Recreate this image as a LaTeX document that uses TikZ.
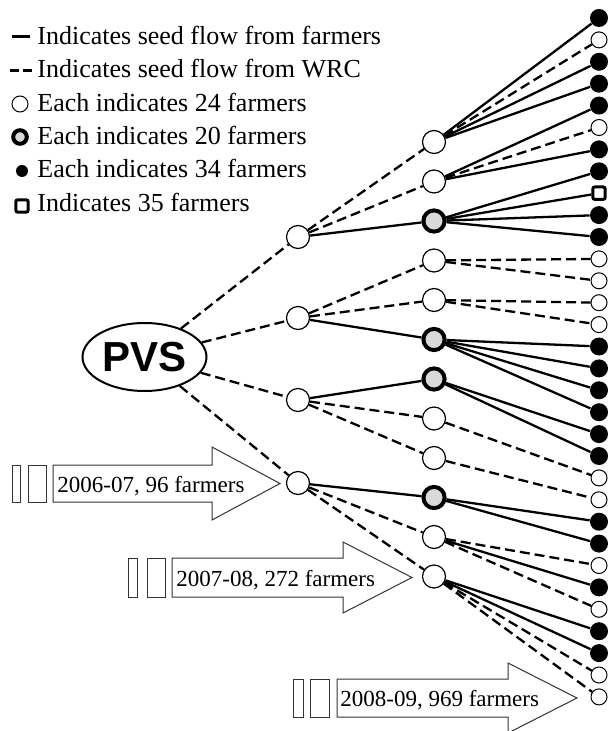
\documentclass[tikz,border=0pt]{standalone}
\usepackage{fontspec}
\setmainfont{Liberation Serif}
\newfontfamily\pvsfont{Liberation Sans}
\usetikzlibrary{shapes.geometric}

\begin{document}
\begin{tikzpicture}[x=0.5pt,y=-0.5pt,
    pvs/.style={ellipse,draw,line width=1pt,minimum width=62pt,minimum height=34pt,inner sep=0pt,
        font=\pvsfont\bfseries\fontsize{21}{21}\selectfont},
    opn/.style={circle,draw,fill=white,line width=0.6pt,minimum size=11.5pt,inner sep=0pt},
    hatch/.style={circle,draw,fill=gray!30,line width=2pt,minimum size=10.6pt,inner sep=0pt},
    full/.style={circle,fill=black,minimum size=9pt,inner sep=0pt},
    tip/.style={circle,draw,fill=white,line width=0.5pt,minimum size=8pt,inner sep=0pt},
    sqr/.style={rectangle,draw,fill=white,line width=1.5pt,rounded corners=1pt,minimum size=6.2pt,inner sep=0pt},
    frm/.style={line width=1.15pt},
    wrc/.style={line width=1.15pt,dash pattern=on 5pt off 2.5pt},
    key/.style={anchor=base west,inner sep=0pt,font=\fontsize{13}{15}\selectfont},
    year/.style={anchor=base west,inner sep=0pt,font=\fontsize{11.5}{13}\selectfont},
    box/.style={line width=0.5pt,draw=black!80}]
    \useasboundingbox (0,0) rectangle (608,731);

    % legend
    \draw[line width=1.5pt] (12,37) -- (30,37);
    \draw[line width=1.5pt,dash pattern=on 4.5pt off 2pt] (10,71) -- (32,71);
    \node[tip] (k3) at (20,104) {};
    \node[hatch,minimum size=6.8pt] (k4) at (20,137) {};
    \node[full,minimum size=6pt] (k5) at (22,171) {};
    \node[sqr] (k6) at (22,206) {};
    \node[key] (t1) at (37,45) {Indicates seed flow from farmers};
    \node[key] (t2) at (37,78) {Indicates seed flow from WRC};
    \node[key] (t3) at (37,112) {Each indicates 24 farmers};
    \node[key] (t4) at (37,145) {Each indicates 20 farmers};
    \node[key] (t5) at (37,178) {Each indicates 34 farmers};
    \node[key] (t6) at (37,212) {Indicates 35 farmers};

    % years
    \draw[box] (12,465) rectangle (20,502);
    \draw[box] (28,465) rectangle (46,502);
    \draw[box] (53,465) -- (212,465) -- (212,447) -- (280,483.5) -- (212,520) -- (212,502) -- (53,502) -- cycle;
    \node[year] (y1) at (57,492) {2006-07, 96 farmers};
    \draw[box] (128,558) rectangle (137,597);
    \draw[box] (147,558) rectangle (165,597);
    \draw[box] (172,558) -- (343,558) -- (343,542) -- (412,577.5) -- (343,613) -- (343,597) -- (172,597) -- cycle;
    \node[year] (y2) at (176,586) {2007-08, 272 farmers};
    \draw[box] (293,679) rectangle (303,717);
    \draw[box] (310,679) rectangle (329,717);
    \draw[box] (337,679) -- (508,679) -- (508,663) -- (577,698) -- (508,733) -- (508,717) -- (337,717) -- cycle;
    \node[year] (y3) at (340,706) {2008-09, 969 farmers};

    % tree
    \node[pvs] (pvs) at (144.5,357) {PVS};
    \node[opn] (a1) at (298,237) {};
    \node[opn] (a2) at (298,318) {};
    \node[opn] (a3) at (298,400) {};
    \node[opn] (a4) at (298,483) {};
    \foreach \i/\s in {1/opn,2/opn,3/hatch,4/opn,5/opn,6/hatch,7/hatch,8/opn,9/opn,10/hatch,11/opn,12/opn}
        \node[\s] (b\i) at (434,{142+(\i-1)*39.5}) {};
    \foreach \i/\s in {1/full,2/tip,3/full,4/full,5/full,6/tip,7/full,8/full,9/sqr,10/full,11/full,
        12/tip,13/tip,14/tip,15/tip,16/full,17/full,18/full,19/full,20/full,21/full,22/tip,23/tip,
        24/full,25/full,26/tip,27/full,28/tip,29/full,30/full,31/tip,32/tip}
        \node[\s] (c\i) at (599,{18+(\i-1)*21.9}) {};

    \draw[wrc] (pvs) -- (a1);
    \draw[wrc] (pvs) -- (a2);
    \draw[wrc] (pvs) -- (a3);
    \draw[wrc] (pvs) -- (a4);

    \draw[wrc] (a1) -- (b1);
    \draw[wrc] (a1) -- (b2);
    \draw[frm] (a1) -- (b3);
    \draw[wrc] (a2) -- (b4);
    \draw[wrc] (a2) -- (b5);
    \draw[frm] (a2) -- (b6);
    \draw[frm] (a3) -- (b7);
    \draw[wrc] (a3) -- (b8);
    \draw[wrc] (a3) -- (b9);
    \draw[frm] (a4) -- (b10);
    \draw[wrc] (a4) -- (b11);
    \draw[wrc] (a4) -- (b12);

    \draw[frm] (b1) -- (c1);
    \draw[wrc] (b1) -- (c2);
    \draw[frm] (b1) -- (c3);
    \draw[frm] (b1) -- (c4);
    \draw[frm] (b2) -- (c5);
    \draw[wrc] (b2) -- (c6);
    \draw[frm] (b2) -- (c7);
    \draw[frm] (b3) -- (c8);
    \draw[frm] (b3) -- (c9);
    \draw[frm] (b3) -- (c10);
    \draw[frm] (b3) -- (c11);
    \draw[wrc] (b4) -- (c12);
    \draw[wrc] (b4) -- (c13);
    \draw[wrc] (b5) -- (c14);
    \draw[wrc] (b5) -- (c15);
    \draw[frm] (b6) -- (c16);
    \draw[frm] (b6) -- (c17);
    \draw[frm] (b6) -- (c18);
    \draw[frm] (b6) -- (c19);
    \draw[frm] (b7) -- (c20);
    \draw[frm] (b7) -- (c21);
    \draw[wrc] (b8) -- (c22);
    \draw[wrc] (b9) -- (c23);
    \draw[frm] (b10) -- (c24);
    \draw[frm] (b10) -- (c25);
    \draw[wrc] (b11) -- (c26);
    \draw[frm] (b11) -- (c27);
    \draw[wrc] (b11) -- (c28);
    \draw[frm] (b12) -- (c29);
    \draw[frm] (b12) -- (c30);
    \draw[wrc] (b12) -- (c31);
    \draw[wrc] (b12) -- (c32);
\end{tikzpicture}
\end{document}
